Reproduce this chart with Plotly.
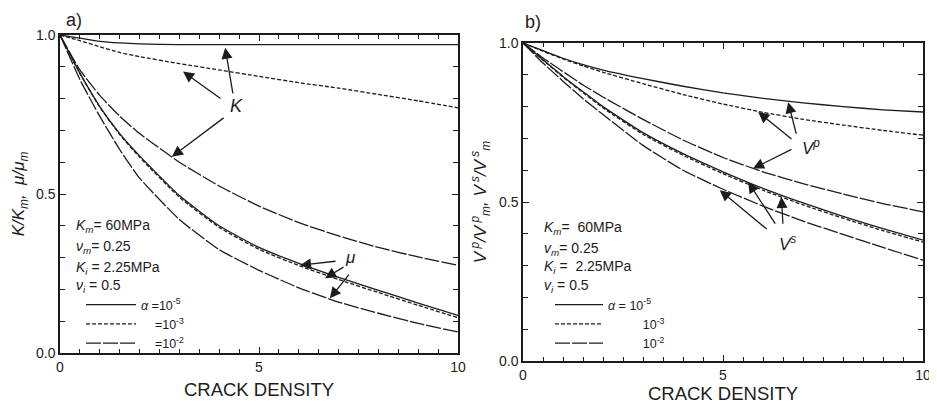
import plotly.graph_objects as go

FONT = "Liberation Sans, Arial, Helvetica, sans-serif"
INK = "#1c1c1c"

# ---------------- data ----------------
crack_density = [0, 0.5, 1, 1.5, 2, 3, 4, 5, 6, 7, 8, 9, 10]

# panel a) normalised moduli
K_alpha5 = [1.0, 0.99, 0.98, 0.975, 0.972, 0.97, 0.97, 0.97, 0.97, 0.97, 0.97, 0.97, 0.97]
K_alpha3 = [1.0, 0.982, 0.963, 0.945, 0.932, 0.91, 0.89, 0.87, 0.85, 0.833, 0.813, 0.793, 0.771]
K_alpha2 = [1.0, 0.89, 0.81, 0.745, 0.69, 0.60, 0.525, 0.462, 0.41, 0.368, 0.332, 0.302, 0.276]
mu_alpha5 = [1.0, 0.88, 0.775, 0.69, 0.62, 0.495, 0.40, 0.332, 0.282, 0.238, 0.197, 0.157, 0.118]
mu_alpha3 = [1.0, 0.879, 0.773, 0.687, 0.616, 0.49, 0.395, 0.326, 0.275, 0.231, 0.19, 0.15, 0.111]
mu_alpha2 = [1.0, 0.86, 0.744, 0.64, 0.55, 0.42, 0.325, 0.26, 0.205, 0.16, 0.125, 0.093, 0.066]

# panel b) normalised velocities
Vp_alpha5 = [1.0, 0.976, 0.952, 0.932, 0.915, 0.888, 0.864, 0.843, 0.826, 0.812, 0.80, 0.79, 0.783]
Vp_alpha3 = [1.0, 0.974, 0.95, 0.928, 0.908, 0.872, 0.838, 0.808, 0.782, 0.76, 0.742, 0.725, 0.71]
Vp_alpha2 = [1.0, 0.953, 0.91, 0.868, 0.83, 0.76, 0.695, 0.64, 0.595, 0.558, 0.525, 0.495, 0.469]
Vs_alpha5 = [1.0, 0.947, 0.895, 0.847, 0.80, 0.718, 0.652, 0.595, 0.543, 0.497, 0.455, 0.416, 0.38]
Vs_alpha3 = [1.0, 0.946, 0.893, 0.844, 0.796, 0.713, 0.647, 0.589, 0.537, 0.491, 0.449, 0.41, 0.374]
Vs_alpha2 = [1.0, 0.937, 0.88, 0.825, 0.775, 0.678, 0.6, 0.54, 0.487, 0.44, 0.398, 0.357, 0.317]

alpha_names_a = ["<i>α</i> =10<sup>-5</sup>", "    =10<sup>-3</sup>", "    =10<sup>-2</sup>"]
alpha_names_b = ["<i>α</i> = 10<sup>-5</sup>", "          10<sup>-3</sup>", "          10<sup>-2</sup>"]

params_a = ["<i>K<sub>m</sub></i>= 60MPa", "<i>ν<sub>m</sub></i>= 0.25",
            "<i>K<sub>i</sub></i> = 2.25MPa", "<i>ν<sub>i</sub></i> = 0.5"]
params_b = ["<i>K<sub>m</sub></i>=  60MPa", "<i>v<sub>m</sub></i>= 0.25",
            "<i>K<sub>i</sub></i> =  2.25MPa", "<i>v<sub>i</sub></i> = 0.5"]

# ---------------- styles ----------------
DASH = {"1e-5": "solid", "1e-3": "4px,2px", "1e-2": "15px,2px"}
LW = 1.3

fig = go.Figure()

def add(x, y, xa, ya, alpha, name=None, legend=None):
    fig.add_trace(go.Scatter(
        x=x, y=y, xaxis=xa, yaxis=ya, mode="lines",
        line=dict(color=INK, width=LW, dash=DASH[alpha], shape="spline", smoothing=0.5),
        name=name if name else "", showlegend=name is not None,
        legend=legend if legend else "legend", hoverinfo="skip"))

add(crack_density, K_alpha5, "x", "y", "1e-5", alpha_names_a[0], "legend")
add(crack_density, K_alpha3, "x", "y", "1e-3", alpha_names_a[1], "legend")
add(crack_density, K_alpha2, "x", "y", "1e-2", alpha_names_a[2], "legend")
add(crack_density, mu_alpha5, "x", "y", "1e-5")
add(crack_density, mu_alpha3, "x", "y", "1e-3")
add(crack_density, mu_alpha2, "x", "y", "1e-2")

add(crack_density, Vp_alpha5, "x2", "y2", "1e-5", alpha_names_b[0], "legend2")
add(crack_density, Vp_alpha3, "x2", "y2", "1e-3", alpha_names_b[1], "legend2")
add(crack_density, Vp_alpha2, "x2", "y2", "1e-2", alpha_names_b[2], "legend2")
add(crack_density, Vs_alpha5, "x2", "y2", "1e-5")
add(crack_density, Vs_alpha3, "x2", "y2", "1e-3")
add(crack_density, Vs_alpha2, "x2", "y2", "1e-2")

# page body has an 8px margin: figure is sized to the visible area
OFF = 8
W, H = 937 - OFF, 404 - OFF

def xp(X):  # reference pixel -> paper
    return (X - OFF) / W

def yp(Y):
    return (H - (Y - OFF)) / H

def xdom(a, b):
    return [xp(a), xp(b)]

def ydom(top, bottom):
    return [yp(bottom), yp(top)]

ax_common = dict(showline=True, linecolor=INK, linewidth=1.5, mirror="ticks",
                 ticks="inside", ticklen=6, tickwidth=1.3, tickcolor=INK,
                 showgrid=False, zeroline=False, automargin=False,
                 ticklabeloverflow="allow",
                 tickfont=dict(family=FONT, size=14, color=INK))

xa = dict(ax_common, range=[0, 10], tick0=0, dtick=5,
          minor=dict(tickmode="linear", tick0=0, dtick=0.5, ticks="inside",
                     ticklen=4, tickcolor=INK, tickwidth=1.2, showgrid=False),
          title=dict(text="CRACK DENSITY", font=dict(family=FONT, size=18.5, color=INK), standoff=10))
ya = dict(ax_common, range=[0, 1.0], tick0=0, dtick=0.5, tickformat=".1f",
          minor=dict(tickmode="linear", tick0=0, dtick=0.1, ticks="inside",
                     ticklen=5, tickcolor=INK, tickwidth=1.2, showgrid=False))

fig.update_layout(
    width=W, height=H, margin=dict(l=0, r=0, t=0, b=0, autoexpand=False),
    paper_bgcolor="white", plot_bgcolor="white",
    font=dict(family=FONT, color=INK),
    xaxis=dict(xa, domain=xdom(60, 458), anchor="y"),
    yaxis=dict(ya, domain=ydom(35, 353), anchor="x",
               title=dict(text="<i>K/K<sub>m</sub>,  μ/μ<sub>m</sub></i>",
                          font=dict(family=FONT, size=17, color=INK), standoff=7)),
    xaxis2=dict(xa, domain=xdom(523, 923), anchor="y2"),
    yaxis2=dict(ya, domain=ydom(43, 361), anchor="x2",
                title=dict(text="<i>V<sup> p</sup>/V<sup> p</sup><sub>m</sub>, V<sup> s</sup>/V<sup> s</sup><sub>m</sub></i>",
                           font=dict(family=FONT, size=17, color=INK), standoff=8)),
    legend=dict(x=xp(81), y=yp(290), xanchor="left", yanchor="top",
                bgcolor="rgba(0,0,0,0)", borderwidth=0, tracegroupgap=0,
                font=dict(family=FONT, size=12.5, color=INK), itemwidth=50),
    legend2=dict(x=xp(550), y=yp(290), xanchor="left", yanchor="top",
                 bgcolor="rgba(0,0,0,0)", borderwidth=0, tracegroupgap=0,
                 font=dict(family=FONT, size=12.5, color=INK), itemwidth=48),
)

ann = []
# panel letters
ann.append(dict(xref="paper", yref="paper", x=xp(64), y=yp(20), text="a)",
                showarrow=False, xanchor="left", yanchor="middle",
                font=dict(family=FONT, size=18, color=INK)))
ann.append(dict(xref="paper", yref="paper", x=xp(523), y=yp(22), text="b)",
                showarrow=False, xanchor="left", yanchor="middle",
                font=dict(family=FONT, size=18, color=INK)))

# parameter text
for txt, yv in zip(params_a, [0.398, 0.333, 0.268, 0.21]):
    ann.append(dict(xref="x", yref="y", x=0.36, y=yv, text=txt, showarrow=False,
                    xanchor="left", font=dict(family=FONT, size=14, color=INK)))
for txt, yv in zip(params_b, [0.417, 0.351, 0.295, 0.235]):
    ann.append(dict(xref="x2", yref="y2", x=0.47, y=yv, text=txt, showarrow=False,
                    xanchor="left", font=dict(family=FONT, size=14, color=INK)))

# curve labels
ann.append(dict(xref="x", yref="y", x=4.43, y=0.776, text="<i>K</i>", showarrow=False,
                font=dict(family=FONT, size=18, color=INK)))
ann.append(dict(xref="x", yref="y", x=7.3, y=0.30, text="<i>μ</i>", showarrow=False,
                font=dict(family=FONT, size=17, color=INK)))
ann.append(dict(xref="x2", yref="y2", x=7.2, y=0.672, text="<i>V<sup>p</sup></i>", showarrow=False,
                font=dict(family=FONT, size=17, color=INK)))
ann.append(dict(xref="x2", yref="y2", x=6.6, y=0.372, text="<i>V<sup>s</sup></i>", showarrow=False,
                font=dict(family=FONT, size=17, color=INK)))

# arrows (head x,y ; tail ax,ay)
arrows_a = [((4.15, 0.96), (4.35, 0.812)),
            ((3.09, 0.885), (4.07, 0.797)),
            ((2.81, 0.617), (4.15, 0.743)),
            ((6.03, 0.276), (6.96, 0.289)),
            ((6.66, 0.235), (7.16, 0.273)),
            ((6.78, 0.172), (7.29, 0.251))]
arrows_b = [((6.63, 0.814), (6.84, 0.71)),
            ((5.88, 0.783), (6.75, 0.694)),
            ((5.75, 0.605), (6.75, 0.668)),
            ((4.92, 0.537), (6.13, 0.411)),
            ((5.63, 0.563), (6.33, 0.427)),
            ((6.46, 0.516), (6.5, 0.427))]
for (hx, hy), (tx, ty) in arrows_a:
    ann.append(dict(xref="x", yref="y", axref="x", ayref="y", x=hx, y=hy, ax=tx, ay=ty,
                    text="", showarrow=True, arrowhead=2, arrowsize=1.7, arrowwidth=1.3,
                    arrowcolor=INK, standoff=0, startstandoff=0))
for (hx, hy), (tx, ty) in arrows_b:
    ann.append(dict(xref="x2", yref="y2", axref="x2", ayref="y2", x=hx, y=hy, ax=tx, ay=ty,
                    text="", showarrow=True, arrowhead=2, arrowsize=1.7, arrowwidth=1.3,
                    arrowcolor=INK, standoff=0, startstandoff=0))

fig.update_layout(annotations=ann)
fig.write_html("out.html")
